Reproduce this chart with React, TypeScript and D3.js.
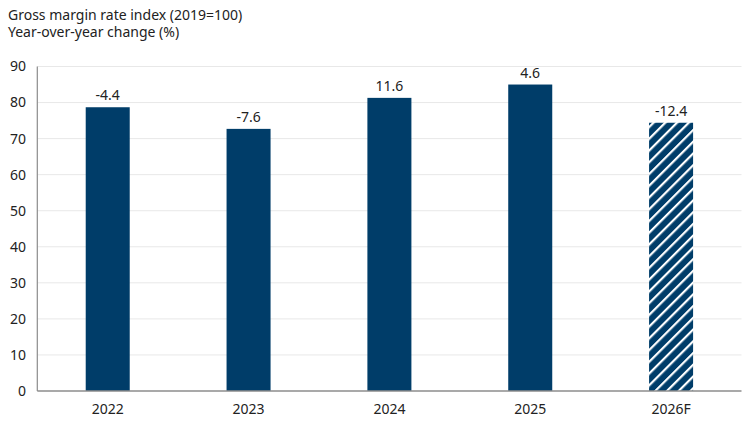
import React from "react";
import * as d3 from "d3";

const categories = ["2022", "2023", "2024", "2025", "2026F"];
const indexValues = [78.7, 72.7, 81.3, 85.0, 74.4];
const yoyLabels = ["-4.4", "-7.6", "11.6", "4.6", "-12.4"];
const forecastFlags = [false, false, false, false, true];
const yTicks = [0, 10, 20, 30, 40, 50, 60, 70, 80, 90];
const titleLines = ["Gross margin rate index (2019=100)", "Year-over-year change (%)"];

const W = 750;
const H = 422;
const FONT = "'Noto Sans', sans-serif";
const NAVY = "#003d69";

export default function App() {
  const left = 37.3;
  const right = 741.5;
  const top = 66.5;
  const bottom = 391;

  const x = d3.scaleBand<string>().domain(categories).range([left, right]).paddingInner(0.6875).paddingOuter(0.34375);
  const y = d3.scaleLinear().domain([0, 90]).range([bottom, top]);

  return (
    <svg width={W} height={H} style={{ position: "absolute", left: 0, top: 0, background: "#fff" }} fontFamily={FONT}>
      <defs>
        <pattern id="hatch" patternUnits="userSpaceOnUse" width={8.3} height={8.3} patternTransform="rotate(45)">
          <rect width={8.3} height={8.3} fill={NAVY} />
          <line x1={0} y1={0} x2={0} y2={8.3} stroke="#fff" strokeWidth={4.4} />
        </pattern>
      </defs>
      {titleLines.map((t, i) => (
        <text key={t} x={8} y={19.5 + i * 17.5} fontSize={14} fill="#222">
          {t}
        </text>
      ))}
      {yTicks.map((t) => (
        <g key={t}>
          {t > 0 && <line x1={left} x2={right} y1={y(t)} y2={y(t)} stroke="#e8e8e8" strokeWidth={1} />}
          <text x={26} y={y(t)} dy="0.35em" textAnchor="end" fontSize={14} fill="#222">
            {t}
          </text>
        </g>
      ))}
      {categories.map((c, i) => {
        const bx = x(c)!;
        const by = y(indexValues[i]);
        return (
          <g key={c}>
            <rect x={bx} y={by} width={x.bandwidth()} height={bottom - by} fill={forecastFlags[i] ? "url(#hatch)" : NAVY} />
            <text x={bx + x.bandwidth() / 2} y={by - 7} textAnchor="middle" fontSize={14} fill="#222">
              {yoyLabels[i]}
            </text>
            <text x={bx + x.bandwidth() / 2} y={414} textAnchor="middle" fontSize={14} fill="#222">
              {c}
            </text>
          </g>
        );
      })}
      <line x1={left} x2={left} y1={top} y2={bottom} stroke="#8c8c8c" strokeWidth={1.2} />
      <line x1={left} x2={right} y1={bottom} y2={bottom} stroke="#8c8c8c" strokeWidth={1.5} />
    </svg>
  );
}
